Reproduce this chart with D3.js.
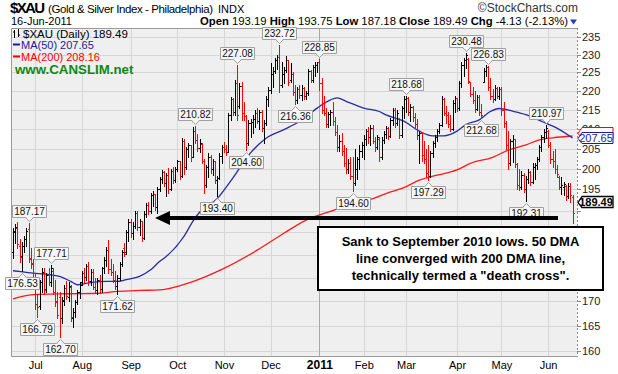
<!DOCTYPE html>
<html>
<head>
<meta charset="utf-8">
<script src="https://cdn.jsdelivr.net/npm/d3@7/dist/d3.min.js"></script>
<style>
  body { margin: 0; background: #fff; }
  svg { display: block; font-family: "Liberation Sans", Arial, sans-serif; }
</style>
</head>
<body>
<svg id="chart" width="618" height="374"></svg>
<script>
// ---- daily bars, [open, high, low, close], one array per month ----
const jun2010 = [
  [180.5,186.0,179.3,185.0],[185.2,187.0,182.5,186.2],[186.0,187.4,181.5,182.3],[182.0,183.5,178.5,179.5],
  [179.8,182.8,176.53,181.9],[181.9,184.2,180.5,183.5],[183.5,186.0,182.0,185.3],[185.8,187.17,178.5,179.2],
  [179.0,181.5,177.0,178.0],[178.2,179.0,173.8,174.5]
];
const jul2010 = [
  [174.0,176.0,168.5,169.5],[169.5,171.5,166.79,168.8],[169.0,174.5,168.5,174.0],[174.0,177.0,172.0,176.3],
  [176.0,177.0,171.5,172.3],[172.5,176.0,172.0,175.5],[175.5,177.0,173.5,174.0],[174.0,177.71,173.3,177.0],
  [176.5,177.0,171.5,172.0],[172.0,174.5,169.0,169.8],[170.0,172.0,166.5,167.2],[171.0,172.0,162.70,166.5],
  [166.5,171.0,165.5,170.2],[170.0,173.5,169.2,172.8],[172.8,174.3,170.5,171.2],[171.0,174.0,170.0,173.2],
  [173.0,173.5,166.0,166.8],[166.5,168.7,164.8,167.8],[167.8,170.3,166.8,169.8],[169.8,172.4,169.5,172.0],
  [172.0,174.0,170.8,173.5]
];
const aug2010 = [
  [174.0,176.5,173.5,176.0],[176.0,177.0,173.8,175.2],[175.2,178.0,174.5,177.5],[177.5,178.5,173.5,174.3],
  [174.3,176.8,173.5,176.2],[176.2,176.8,172.5,173.0],[173.0,175.0,171.8,172.3],[172.3,175.0,171.5,174.5],
  [174.5,175.5,171.8,172.5],[172.5,177.4,172.0,177.0],[177.0,179.5,176.0,178.8],[178.8,181.6,177.5,181.0],
  [181.0,183.3,176.0,176.8],[176.8,179.0,175.5,176.2],[176.2,178.0,174.0,174.6],[174.6,176.5,172.5,173.3],
  [173.3,175.5,171.62,175.0],[175.0,178.4,174.5,178.0],[178.0,181.0,177.5,180.5],[181.5,182.5,179.8,180.2],
  [180.5,185.6,180.2,185.0],[185.0,188.0,183.0,187.3]
];
const sep2010 = [
  [187.3,188.0,184.0,184.8],[184.8,187.4,183.5,186.5],[186.5,190.0,186.0,189.5],[189.5,190.0,185.6,186.2],
  [186.2,188.0,184.5,187.5],[187.5,187.6,183.0,183.8],[183.8,189.8,183.5,189.2],[189.2,191.8,188.5,191.3],
  [191.3,192.1,189.3,189.8],[189.8,194.2,189.5,193.6],[193.6,194.5,191.0,193.9],[193.9,194.0,190.2,190.8],
  [190.8,195.5,189.5,195.0],[195.0,198.0,194.5,197.5],[197.5,199.7,196.5,199.2],[199.2,199.5,195.7,196.5],
  [196.5,199.0,193.5,198.5],[198.5,200.2,194.2,195.0],[195.0,200.0,194.8,199.5],[199.5,200.5,196.5,197.2],
  [197.2,200.5,196.8,200.0]
];
const oct2010 = [
  [200.0,202.2,199.5,201.8],[201.8,202.0,197.5,198.3],[198.3,207.7,198.0,206.8],[206.8,207.5,198.8,200.5],
  [200.5,205.5,200.0,204.8],[204.8,206.4,203.0,205.8],[205.8,206.0,202.0,203.0],[203.0,210.4,202.8,209.5],
  [209.5,210.82,206.5,207.2],[207.2,208.8,204.5,205.2],[205.2,207.5,204.0,206.5],[206.2,206.5,201.5,202.0],
  [202.0,202.5,194.2,196.0],[196.0,201.0,195.5,200.5],[200.5,203.8,198.0,202.8],[202.8,203.5,199.0,199.8],
  [199.8,202.5,198.5,201.8],[201.8,202.0,196.5,197.3],[197.3,198.2,193.40,197.8],[197.8,203.8,197.5,203.2],
  [203.2,206.0,201.5,205.5]
];
const nov2010 = [
  [205.5,206.6,204.0,204.8],[204.8,206.0,203.5,204.2],[204.2,214.2,204.0,213.5],[213.5,218.4,212.3,217.8],
  [217.8,218.0,213.5,214.5],[214.5,223.0,213.5,222.0],[222.0,227.08,212.3,213.5],[216.0,222.0,215.5,221.2],
  [221.2,222.5,212.3,214.0],[214.0,217.0,212.3,213.2],[213.2,213.7,204.60,206.5],[206.5,212.3,206.0,211.5],
  [211.5,212.5,208.0,211.8],[211.8,213.5,209.0,212.5],[212.5,215.0,210.5,214.2],[214.2,215.5,211.5,212.0],
  [212.0,215.0,210.0,214.5],[214.5,214.8,209.5,210.3],[210.3,212.3,206.4,211.5],[211.5,218.5,211.0,217.8],
  [217.8,221.0,216.0,220.3]
];
const dec2010 = [
  [220.3,227.7,219.5,224.5],[224.5,226.5,221.0,225.5],[225.5,229.0,224.8,228.5],[228.5,230.0,226.0,229.3],
  [229.3,232.72,219.8,221.5],[221.5,228.0,221.0,224.5],[224.5,226.4,222.0,225.8],[225.8,229.5,225.0,228.5],
  [228.5,228.5,221.5,222.5],[223.0,227.7,222.5,224.5],[224.5,225.0,219.0,219.8],[219.8,221.7,216.36,217.5],
  [217.5,221.0,216.8,220.5],[220.5,221.5,218.0,219.0],[219.0,221.5,217.5,220.8],[220.8,221.0,217.8,218.5],
  [218.5,220.0,217.8,219.5],[219.5,226.0,219.0,225.3],[225.3,225.8,222.3,223.0],[223.0,227.0,222.5,226.5],
  [226.5,227.8,224.0,227.2],[227.2,228.0,225.0,227.8]
];
const jan2011 = [
  [227.8,228.85,220.3,222.0],[222.0,223.5,214.0,215.0],[215.0,218.5,213.5,214.2],[214.2,215.5,210.4,211.2],
  [211.2,214.5,210.4,213.8],[213.8,215.0,211.0,214.5],[214.5,217.0,211.0,212.0],[212.0,213.0,208.5,209.2],
  [209.2,211.0,204.4,205.5],[205.5,208.5,204.5,207.0],[207.0,209.0,203.5,204.3],[204.3,206.0,200.7,201.5],
  [201.5,205.2,199.0,199.8],[199.8,202.5,199.0,201.5],[201.5,203.0,197.5,198.2],[198.2,203.0,194.60,196.5],
  [196.5,205.0,196.0,199.8],[199.8,203.0,197.5,202.5],[202.5,206.0,200.0,204.5],[204.5,206.6,203.0,206.0]
];
const feb2011 = [
  [206.0,208.3,202.4,207.5],[207.5,210.0,206.0,209.5],[209.5,210.5,206.5,208.0],[208.0,211.0,206.0,210.3],
  [210.3,211.0,206.5,207.0],[207.0,208.0,204.5,205.5],[205.5,208.5,205.0,207.8],[207.5,208.0,202.0,203.0],
  [203.0,208.0,202.5,207.2],[207.2,209.5,206.5,208.8],[208.8,210.8,207.7,210.3],[210.3,210.5,207.5,208.2],
  [208.2,212.7,208.0,212.2],[212.2,215.5,211.0,214.8],[214.8,215.5,210.5,211.5],[211.5,215.0,211.0,214.0],
  [212.5,212.7,207.7,208.5],[208.5,216.0,208.0,215.5],[215.5,218.5,212.7,217.8]
];
const mar2011 = [
  [217.8,218.68,214.5,218.2],[218.2,218.3,213.5,214.5],[214.5,216.5,212.0,215.8],[215.8,216.0,212.0,213.0],
  [213.0,214.0,210.5,211.2],[211.2,212.5,207.5,208.5],[208.5,209.5,201.5,209.0],[209.0,209.2,202.0,203.5],
  [203.5,207.0,201.5,202.5],[202.5,205.0,198.0,199.0],[199.0,206.0,197.29,198.2],[198.2,204.5,198.0,203.8],
  [203.8,207.0,203.0,206.5],[206.5,208.5,205.5,207.8],[207.8,210.0,207.0,209.5],[209.5,211.5,209.0,211.0],
  [211.0,218.5,210.8,217.8],[217.8,218.0,213.5,214.2],[214.2,216.0,211.5,213.5],[213.5,214.5,210.5,211.3],
  [211.3,213.5,209.5,210.0],[210.0,217.5,209.8,216.8],[216.8,218.5,214.5,218.0]
];
const apr2011 = [
  [218.0,218.0,214.7,215.5],[215.5,222.7,215.0,222.0],[222.0,228.0,221.0,227.0],[227.0,229.0,224.0,228.5],
  [228.5,230.48,226.2,229.8],[228.8,229.0,222.0,222.8],[222.3,222.5,218.5,219.2],[219.2,221.0,216.7,217.5],
  [217.5,220.0,214.5,215.2],[215.2,219.0,214.8,218.3],[218.3,218.8,213.7,214.5],[214.5,216.5,212.68,213.5],
  [222.5,226.2,222.3,225.5],[225.5,227.0,224.0,226.5],[226.5,226.83,220.3,221.0],[221.0,223.5,217.8,218.5],
  [218.5,220.5,217.0,217.8],[217.8,221.5,217.5,220.8],[220.8,221.0,218.0,218.5],[218.5,221.0,217.8,220.5]
];
const may2011 = [
  [220.5,221.0,213.5,214.8],[214.8,217.0,210.5,211.5],[211.5,212.0,205.0,206.0],[206.0,209.5,200.0,201.5],
  [201.5,207.5,201.0,206.8],[206.8,208.3,201.7,207.5],[207.5,207.5,200.5,201.2],[201.2,201.5,195.0,196.0],
  [196.0,199.8,194.8,195.5],[195.5,199.5,195.0,198.5],[198.5,199.0,194.3,195.0],[195.0,198.2,192.31,197.5],
  [197.5,200.0,196.5,199.2],[199.2,199.5,196.0,196.8],[196.8,201.3,196.5,200.5],[200.5,201.5,197.5,201.0],
  [201.0,203.0,200.0,202.5],[202.5,206.0,202.0,205.5],[205.5,208.3,204.4,207.8],[207.8,210.0,206.6,209.3],
  [209.3,210.97,207.7,210.3]
];
const jun2011 = [
  [209.5,209.8,205.5,206.0],[206.0,206.7,201.5,202.3],[202.3,204.5,200.5,201.8],[201.8,205.0,199.0,199.8],
  [199.8,201.0,198.0,198.8],[198.0,198.2,195.0,195.5],[195.5,198.0,194.0,196.0],[195.5,196.7,193.7,196.3],
  [195.8,196.0,192.4,193.5],[193.5,196.5,193.0,195.8],[195.8,196.5,192.0,193.62],[193.19,193.75,187.18,189.49]
];

// moving averages: [bar number, value]
const ma50 = [
  [0,176.5],[7,176.1],[21,175.3],[26,174.2],[29,173.5],[32,173.7],[36,174.0],[42,174.2],[47,174.2],
  [51,174.6],[57,175.3],[62,176.7],[66,178.5],[69,179.6],[77,184.1],[81,187.5],[84,189.6],[92,192.8],
  [99,197.7],[107,203.9],[114,207.6],[122,209.8],[129,211.9],[137,215.4],[143,217.6],[146,218.1],
  [150,217.2],[158,215.4],[165,214.5],[168,213.6],[176,212.0],[183,209.4],[189,208.2],[194,208.2],
  [200,209.4],[204,211.1],[210,212.3],[215,214.5],[219,215.3],[225,214.6],[231,213.7],[239,211.7],
  [245,210.2],[252,207.65]
];
const ma200 = [
  [0,170.5],[9,171.4],[24,171.6],[39,171.7],[47,172.1],[57,172.3],[66,172.4],[80,174.0],[95,177.0],
  [110,181.0],[122,184.8],[132,187.8],[143,189.8],[153,191.6],[161,192.6],[168,194.0],[176,195.4],
  [183,197.2],[191,198.4],[200,199.7],[206,201.3],[216,202.8],[223,204.6],[231,205.9],[236,207.0],
  [243,207.7],[252,208.16]
];

// bars that get a value callout
const peakBars = [7, 17, 82, 101, 120, 138, 177, 204, 214, 240];
const troughBars = [4, 11, 21, 47, 92, 105, 127, 153, 187, 211, 231];

const yTicks = [160, 165, 170, 175, 180, 185, 190, 195, 200, 205, 210, 215, 220, 225, 230, 235];
const monthNames = ["Jan","Feb","Mar","Apr","May","Jun","Jul","Aug","Sep","Oct","Nov","Dec"];
const holidays = ["2010-07-05","2010-09-06","2010-11-25","2010-12-24","2011-01-17","2011-02-21","2011-04-22","2011-05-30"];

const noteLines = [
  "Sank to September 2010 lows. 50 DMA",
  "line converged with 200 DMA line,",
  "technically termed a \"death cross\"."
];

// ---- build the trading day list ----
const bars = [jun2010, jul2010, aug2010, sep2010, oct2010, nov2010, dec2010,
              jan2011, feb2011, mar2011, apr2011, may2011, jun2011].flat();

const days = [];
for (let d = new Date(Date.UTC(2010, 5, 17)); d <= new Date(Date.UTC(2011, 5, 16)); d.setUTCDate(d.getUTCDate() + 1)) {
    const wd = d.getUTCDay();
    const s = d.toISOString().slice(0, 10);
    if (wd === 0 || wd === 6 || holidays.includes(s)) continue;
    days.push(s);
}

const data = bars.map((b, i) => ({
    date: days[i], open: b[0], high: b[1], low: b[2], close: b[3],
    up: i === 0 ? true : b[3] >= bars[i - 1][3]
}));
const last = data[data.length - 1];
const prevClose = data[data.length - 2].close;

// ---- chart frame ----
const plot = { left: 11, right: 577, top: 28, bottom: 356 };
const svg = d3.select("#chart");

const x = d3.scalePoint().domain(days).range([13, 572.5]);
const y = d3.scaleLog().domain([159.0, 237.6]).range([plot.bottom, plot.top]);
const px = v => Math.round(v) + 0.5;

svg.append("rect").attr("width", 618).attr("height", 374).attr("fill", "#fff");
svg.append("rect")
    .attr("x", plot.left).attr("y", plot.top)
    .attr("width", plot.right - plot.left).attr("height", plot.bottom - plot.top)
    .attr("fill", "#efefef");

svg.append("defs").append("clipPath").attr("id", "clip")
    .append("rect").attr("x", plot.left).attr("y", plot.top)
    .attr("width", plot.right - plot.left).attr("height", plot.bottom - plot.top);

// horizontal grid
svg.append("g").selectAll("line").data(yTicks).join("line")
    .attr("x1", plot.left).attr("x2", plot.right)
    .attr("y1", d => px(y(d))).attr("y2", d => px(y(d)))
    .attr("stroke", "#d6d6d6");

// month grid + labels
const monthStarts = data.filter((d, i) => i > 0 && d.date.slice(5, 7) !== data[i - 1].date.slice(5, 7));
const isJan = d => d.date.slice(5, 7) === "01";
svg.append("g").selectAll("line").data(monthStarts).join("line")
    .attr("x1", d => px(x(d.date))).attr("x2", d => px(x(d.date)))
    .attr("y1", plot.top).attr("y2", plot.bottom)
    .attr("stroke", d => isJan(d) ? "#a8a8a8" : "#d6d6d6");

svg.append("g").selectAll("text").data(monthStarts).join("text")
    .attr("x", d => x(d.date) + 0.5)
    .attr("y", 369)
    .attr("text-anchor", "middle")
    .attr("font-size", d => isJan(d) ? 12 : 11)
    .attr("font-weight", d => isJan(d) ? "bold" : "normal")
    .text(d => isJan(d) ? d.date.slice(0, 4) : monthNames[+d.date.slice(5, 7) - 1]);

// frame
svg.append("path")
    .attr("d", `M${plot.right},${plot.top + 0.5}H${plot.left + 0.5}V${plot.bottom + 0.5}H${plot.right}`)
    .attr("fill", "none").attr("stroke", "#9a9a9a");
svg.append("line")
    .attr("x1", plot.right + 0.5).attr("x2", plot.right + 0.5)
    .attr("y1", plot.top).attr("y2", plot.bottom + 1)
    .attr("stroke", "#888").attr("stroke-dasharray", "2,2");

// y axis on the right (190 sits under the last price tag, so no label there)
const yAxis = svg.append("g");
yAxis.selectAll("line").data(yTicks).join("line")
    .attr("x1", plot.right).attr("x2", plot.right + 4)
    .attr("y1", d => px(y(d))).attr("y2", d => px(y(d)))
    .attr("stroke", "#888");
yAxis.selectAll("text").data(yTicks.filter(t => t !== 190)).join("text")
    .attr("x", plot.right + 5).attr("y", d => y(d) + 4)
    .attr("font-size", 11).attr("fill", "#222")
    .text(d => d);

// ---- moving averages ----
const line = d3.line()
    .x(d => x(days[d[0]]))
    .y(d => y(d[1]))
    .curve(d3.curveMonotoneX);

const maGroup = svg.append("g").attr("clip-path", "url(#clip)");
maGroup.append("path").attr("d", line(ma200))
    .attr("fill", "none").attr("stroke", "#ff1a1a").attr("stroke-width", 1.3);
maGroup.append("path").attr("d", line(ma50))
    .attr("fill", "none").attr("stroke", "#2a2aa6").attr("stroke-width", 1.3);

// ---- OHLC bars ----
svg.append("g").selectAll("path").data(data).join("path")
    .attr("d", d => {
        const cx = px(x(d.date));
        return `M${cx},${Math.round(y(d.high))}V${Math.round(y(d.low)) + 1}` +
               `M${cx - 1.5},${px(y(d.open))}h1.5` +
               `M${cx},${px(y(d.close))}h1.5`;
    })
    .attr("fill", "none")
    .attr("stroke", d => d.up ? "#000" : "#ff0000")
    .attr("stroke-width", 1);

// ---- callouts on swing highs / lows ----
function callout(i, isHigh) {
    const d = data[i];
    const value = isHigh ? d.high : d.low;
    const cx = x(d.date);
    const w = 34, h = 12;
    let left = Math.round(cx - w / 2) + 0.5;
    if (left < 4) left = 4.5;
    const tipY = isHigh ? y(value) - 2 : y(value) + 2;
    const boxY = isHigh ? Math.round(tipY - 4 - h) + 0.5 : Math.round(tipY + 4) + 0.5;
    const edge = isHigh ? boxY + h : boxY;
    const tx = Math.round(cx) + 0.5;

    const g = svg.append("g");
    g.append("path")
        .attr("d", `M${left},${boxY}h${w}v${h}h${-w}Z`)
        .attr("fill", "#f6f6f6").attr("stroke", "#a0a0a0");
    g.append("path")
        .attr("d", `M${tx - 4},${edge}L${tx},${isHigh ? edge + 4 : edge - 4}L${tx + 4},${edge}`)
        .attr("fill", "#f6f6f6").attr("stroke", "#a0a0a0");
    g.append("line")
        .attr("x1", tx - 3).attr("x2", tx + 3).attr("y1", edge).attr("y2", edge)
        .attr("stroke", "#f6f6f6");
    g.append("text")
        .attr("x", left + w / 2).attr("y", boxY + h - 2.5)
        .attr("text-anchor", "middle").attr("font-size", 10).attr("fill", "#111")
        .text(value.toFixed(2));
}
peakBars.forEach(i => callout(i, true));
troughBars.forEach(i => callout(i, false));

// ---- header ----
const head = svg.append("g");
head.append("text").attr("x", 10).attr("y", 13)
    .attr("font-size", 15).attr("font-weight", "bold").attr("textLength", 35).text("$XAU");
head.append("text").attr("x", 48).attr("y", 13)
    .attr("font-size", 11.5).attr("textLength", 165).text("(Gold & Silver Index - Philadelphia)");
head.append("text").attr("x", 218).attr("y", 13)
    .attr("font-size", 11).text("INDX");
head.append("text").attr("x", 578).attr("y", 12).attr("text-anchor", "end")
    .attr("font-size", 12).attr("fill", "#333").text("\u00a9StockCharts.com");
head.append("text").attr("x", 11).attr("y", 25).attr("font-size", 11).text("16-Jun-2011");

const chg = last.close - prevClose;
head.append("text").attr("x", 568).attr("y", 25).attr("text-anchor", "end").attr("font-size", 11.3)
    .html(`<tspan font-weight="bold">Open</tspan> ${last.open.toFixed(2)} ` +
          `<tspan font-weight="bold">High</tspan> ${last.high.toFixed(2)} ` +
          `<tspan font-weight="bold">Low</tspan> ${last.low.toFixed(2)} ` +
          `<tspan font-weight="bold">Close</tspan> ${last.close.toFixed(2)} ` +
          `<tspan font-weight="bold">Chg</tspan> ${chg.toFixed(2)} (${(chg / prevClose * 100).toFixed(2)}%)`);
head.append("path").attr("d", "M570,19.5h7l-3.5,5z").attr("fill", "#1a3ad0");

// ---- legend ----
const legend = svg.append("g");
legend.append("path").attr("d", "M14.5,30v8M13,32h1.5M18.5,29v8M18.5,35h1.5").attr("stroke", "#000");
legend.append("text").attr("x", 23).attr("y", 38).attr("font-size", 11.5)
    .text(`$XAU (Daily) ${last.close.toFixed(2)}`);
legend.append("line").attr("x1", 13).attr("x2", 20).attr("y1", 44.5).attr("y2", 44.5)
    .attr("stroke", "#1c1c9c").attr("stroke-width", 2);
legend.append("text").attr("x", 21).attr("y", 49).attr("font-size", 11).attr("fill", "#1c1c9c")
    .text(`MA(50) ${ma50[ma50.length - 1][1].toFixed(2)}`);
legend.append("line").attr("x1", 13).attr("x2", 20).attr("y1", 56.5).attr("y2", 56.5)
    .attr("stroke", "#ff0000").attr("stroke-width", 2);
legend.append("text").attr("x", 21).attr("y", 61).attr("font-size", 11).attr("fill", "#ff0000")
    .text(`MA(200) ${ma200[ma200.length - 1][1].toFixed(2)}`);
legend.append("text").attr("x", 15).attr("y", 74).attr("font-size", 13.3).attr("font-weight", "bold")
    .attr("fill", "#118811").text("www.CANSLIM.net");

// ---- value tags on the right axis ----
function tag(cy, label, color, bold) {
    const g = svg.append("g");
    const top = Math.round(cy - 6) + 0.5;
    g.append("path")
        .attr("d", `M${plot.right + 1},${top + 6}L${plot.right + 5},${top}H613V${top + 11}H${plot.right + 5}Z`)
        .attr("fill", "#fff").attr("stroke", color).attr("stroke-width", bold ? 1.3 : 1);
    if (label) {
        g.append("text").attr("x", 596).attr("y", top + 9.5).attr("text-anchor", "middle")
            .attr("font-size", 11).attr("font-weight", bold ? "bold" : "normal")
            .attr("fill", bold ? "#000" : color).text(label);
    }
}
// the MA(200) tag is mostly hidden behind the MA(50) one, as in the original
tag(y(ma200[ma200.length - 1][1]) - 3, null, "#ff0000", false);
tag(y(ma50[ma50.length - 1][1]), ma50[ma50.length - 1][1].toFixed(2), "#1c1c9c", false);
tag(y(last.close) - 11, last.close.toFixed(2), "#000", true);

// ---- annotation: arrow + note box ----
const arrowY = 218;
svg.append("line").attr("x1", 166).attr("x2", 558).attr("y1", arrowY).attr("y2", arrowY)
    .attr("stroke", "#000").attr("stroke-width", 4);
svg.append("path").attr("d", `M155,${arrowY}L170,${arrowY - 7}V${arrowY + 7}Z`).attr("fill", "#000");

svg.append("rect").attr("x", 318).attr("y", 227).attr("width", 285).attr("height", 63)
    .attr("fill", "#fff").attr("stroke", "#000").attr("stroke-width", 2);
svg.append("g").selectAll("text").data(noteLines).join("text")
    .attr("x", 460.5).attr("y", (d, i) => 246 + i * 17)
    .attr("text-anchor", "middle").attr("font-size", 13).attr("font-weight", "bold")
    .text(d => d);
</script>
</body>
</html>
